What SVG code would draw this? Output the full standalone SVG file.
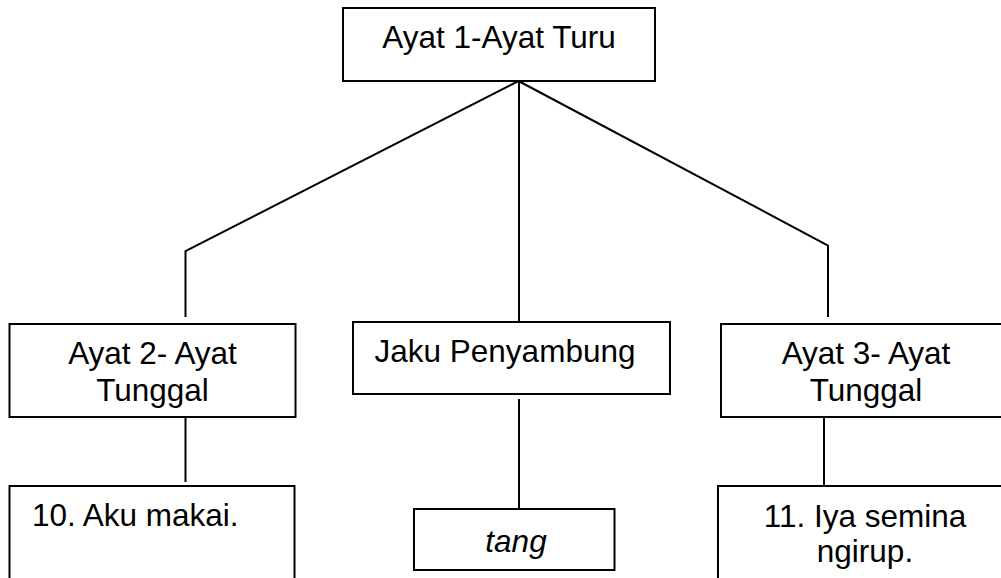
<svg xmlns="http://www.w3.org/2000/svg" width="1001" height="578" viewBox="0 0 1001 578">
<style>
.box{fill:#fff;stroke:#000;stroke-width:2}
.t{font-family:"Liberation Sans",Arial,sans-serif;font-size:31.5px;fill:#000}
.m{text-anchor:middle}
.conn line,.conn polyline{fill:none;stroke:#000;stroke-width:2}
</style>
<rect width="1001" height="578" fill="#fff"/>
<g id="connectors" class="conn">
<polyline points="518.5,81 185.5,251 185.5,317"/>
<line x1="519" y1="81" x2="519" y2="322"/>
<polyline points="518.5,81 828,245.5 828,317"/>
<line x1="185.5" y1="417" x2="185.5" y2="482"/>
<line x1="519" y1="399" x2="519" y2="509"/>
<line x1="824" y1="417" x2="824" y2="486"/>
</g>
<g id="n-ayat1">
<rect class="box" x="343" y="8" width="312" height="73"/>
<text class="t m" x="499" y="48">Ayat 1-Ayat Turu</text>
</g>
<g id="n-ayat2">
<rect class="box" x="9.5" y="324" width="286" height="93"/>
<text class="t m" x="152.5" y="363.5">Ayat 2- Ayat</text>
<text class="t m" x="152.5" y="401">Tunggal</text>
</g>
<g id="n-jaku">
<rect class="box" x="353" y="322" width="317" height="72"/>
<text class="t m" x="505" y="362">Jaku Penyambung</text>
</g>
<g id="n-ayat3">
<rect class="box" x="721" y="324" width="300" height="93"/>
<text class="t m" x="866" y="363.5">Ayat 3- Ayat</text>
<text class="t m" x="866" y="401">Tunggal</text>
</g>
<g id="n-aku">
<rect class="box" x="9.5" y="486" width="285" height="110"/>
<text class="t" x="32" y="526">10. Aku makai.</text>
</g>
<g id="n-tang">
<rect class="box" x="414" y="509" width="200.5" height="61"/>
<text class="t m" x="516" y="552" font-style="italic">tang</text>
</g>
<g id="n-iya">
<rect class="box" x="718" y="486" width="300" height="110"/>
<text class="t m" x="865" y="527">11. Iya semina</text>
<text class="t m" x="865" y="562">ngirup.</text>
</g>
</svg>
